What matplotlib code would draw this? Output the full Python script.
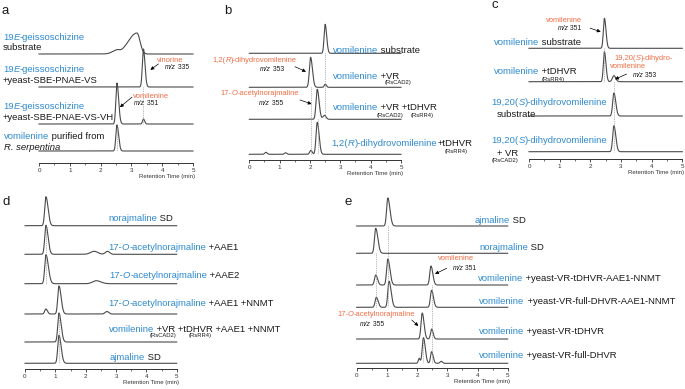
import numpy as np
import matplotlib
matplotlib.use('Agg')
import matplotlib.pyplot as plt
from matplotlib.offsetbox import TextArea, HPacker, AnnotationBbox

plt.rcParams['font.family'] = ['Liberation Sans', 'DejaVu Sans']

B = '#2f8ad0'     # compound names
O = '#f26b43'     # product annotations
K = '#1a1a1a'
TRACE = '#4a4a4a'
I = 'italic'

# ---- chromatogram peaks: (retention time min, height, left width, right width)
a_peaks = [
    [(3.18, 21, 0.28, 0.10), (2.52, 3, 0.15, 0.08)],
    [(3.39, 38, 0.035, 0.05)],
    [(2.53, 41, 0.035, 0.055), (3.39, 5, 0.03, 0.04)],
    [(2.53, 26, 0.035, 0.055)],
]
b_peaks = [
    [(2.50, 29, 0.035, 0.05)],
    [(2.02, 30, 0.04, 0.06), (2.50, 3, 0.03, 0.04)],
    [(2.24, 30, 0.04, 0.06), (2.48, 4, 0.05, 0.05)],
    [(2.24, 32, 0.04, 0.06), (2.03, 4, 0.04, 0.04), (0.55, 2, 0.04, 0.04), (1.20, 1.5, 0.04, 0.04)],
]
c_peaks = [
    [(2.46, 30, 0.035, 0.05)],
    [(2.46, 30, 0.035, 0.05), (2.77, 6, 0.05, 0.06)],
    [(2.77, 23, 0.04, 0.06)],
    [(2.77, 26, 0.04, 0.06)],
]
d_peaks = [
    [(0.69, 29, 0.04, 0.07)],
    [(0.69, 29, 0.04, 0.07), (2.28, 3, 0.12, 0.12), (2.72, 3, 0.07, 0.07)],
    [(0.69, 29, 0.04, 0.08), (2.35, 3, 0.12, 0.15)],
    [(1.12, 28, 0.04, 0.07), (0.69, 5, 0.04, 0.05), (2.70, 2.5, 0.06, 0.06)],
    [(1.12, 29, 0.04, 0.07)],
    [(1.12, 28, 0.04, 0.07)],
]
e_peaks = [
    [(1.03, 28, 0.04, 0.07)],
    [(0.63, 25, 0.04, 0.07)],
    [(0.63, 10, 0.04, 0.06), (1.03, 26, 0.04, 0.07), (2.46, 19, 0.04, 0.06)],
    [(0.65, 10, 0.04, 0.06), (1.07, 26, 0.04, 0.07), (2.48, 17, 0.04, 0.06)],
    [(2.17, 26, 0.04, 0.06), (2.48, 10, 0.035, 0.05)],
    [(2.21, 25.6, 0.04, 0.06), (2.48, 11.6, 0.035, 0.05), (2.07, 5, 0.03, 0.03), (2.80, 2, 0.04, 0.04)],
]

# dotted guides: (retention time, from trace, to trace)
a_dots = [(3.39, 1, 2), (2.53, 2, 3)]
b_dots = [(2.50, 0, 2), (2.04, 1, 3), (2.26, 2, 3)]
c_dots = [(2.46, 0, 1), (2.77, 1, 3)]
d_dots = [(0.69, 0, 2), (1.12, 3, 5)]
e_dots = [(1.03, 0, 3), (0.63, 1, 3), (2.48, 2, 5), (2.20, 4, 5)]

# ---- text (segment, colour[, style])
GEISS = [("19", B), ("E", B, I), ("-geissoschizine", B)]
ACNOR = [("17-", B), ("O", B, I), ("-acetylnorajmaline", B)]
SDIH = [("19,20(", B), ("S", B, I), (")-dihydrovomilenine", B)]

a_labels = [GEISS, [("substrate", K)],
            GEISS, [("+yeast-SBE-PNAE-VS", K)],
            GEISS, [("+yeast-SBE-PNAE-VS-VH", K)],
            [("vomilenine", B), (" purified from", K)], [("R. serpentina", K, I)]]
b_labels = [[("vomilenine", B), (" substrate", K)],
            [("vomilenine", B), (" +VR", K)],
            [("vomilenine", B), (" +VR +tDHVR", K)],
            [("1,2(", B), ("R", B, I), (")-dihydrovomilenine", B), ("+tDHVR", K)]]
c_labels = [[("vomilenine", B), (" substrate", K)],
            [("vomilenine", B), (" +tDHVR", K)],
            SDIH, [("substrate", K)],
            SDIH, [("+ VR", K)]]
d_labels = [[("norajmaline", B), (" SD", K)],
            ACNOR + [(" +AAE1", K)],
            ACNOR + [(" +AAE2", K)],
            ACNOR + [(" +AAE1 +NNMT", K)],
            [("vomilenine", B), (" +VR +tDHVR +AAE1 +NNMT", K)],
            [("ajmaline", B), (" SD", K)]]
e_labels = [[("ajmaline", B), (" SD", K)],
            [("norajmaline", B), (" SD", K)],
            [("vomilenine", B), (" +yeast-VR-tDHVR-AAE1-NNMT", K)],
            [("vomilenine", B), (" +yeast-VR-full-DHVR-AAE1-NNMT", K)],
            [("vomilenine", B), (" +yeast-VR-tDHVR", K)],
            [("vomilenine", B), (" +yeast-VR-full-DHVR", K)]]

enzymes = ["(RsCAD2)", "(RsCAD2)", "(RsRR4)", "(RsRR4)",
           "(RsRR4)", "(RsCAD2)", "(RsCAD2)", "(RsRR4)"]


def mz(v):
    return [("m/z", K, I), (" " + v, K)]


products = [[("vinorine", O)], mz("335"), [("vomilenine", O)], mz("351"),
            [("1,2(", O), ("R", O, I), (")-dihydrovomilenine", O)], mz("353"),
            [("17-", O), ("O", O, I), ("-acetylnorajmaline", O)], mz("355"),
            [("vomilenine", O)], mz("351"),
            [("19,20(", O), ("S", O, I), (")-dihydro-", O)], [("vomilenine", O)], mz("353"),
            [("vomilenine", O)], mz("351"),
            [("17-", O), ("O", O, I), ("-acetylnorajmaline", O)], mz("355")]

# ---- layout (pixels)
W, H = 685, 389
fig = plt.figure(figsize=(W / 100, H / 100), dpi=100)

# x of 0 min, x of 5 min, axis y, trace baselines
lay = {
    'a': (39, 193, 163, [54, 87, 124, 151]),
    'b': (249.3, 401, 160, [53.3, 87.3, 119.3, 154.3]),
    'c': (529, 682.3, 159.3, [48.3, 81.7, 116, 151.7]),
    'd': (25, 176.7, 369.3, [225.7, 254.3, 283.7, 314, 342, 363.3]),
    'e': (356.7, 507.7, 368.3, [226, 253.3, 285, 307.3, 339, 363.3]),
}

x = np.linspace(0, 5, 2000)


def trace(peaks):
    y = np.zeros_like(x)
    for rt, h, sl, sr in peaks:
        s = np.where(x < rt, sl, sr)
        y += h * np.exp(-0.5 * ((x - rt) / s) ** 2)
    return y


def panel(key, peaks, dots, arrows):
    x0, x5, yax, bases = lay[key]
    ytop = yax - 190 if yax > 200 else 0
    ax = fig.add_axes([x0 / W, 1 - yax / H, (x5 - x0) / W, (yax - ytop) / H])
    ax.set_xlim(0, 5)
    ax.set_ylim(yax, ytop)
    ax.patch.set_alpha(0)
    for s in ['top', 'right', 'left']:
        ax.spines[s].set_visible(False)
    ax.spines['bottom'].set_linewidth(0.7)
    ax.spines['bottom'].set_color('#333333')
    ax.set_yticks([])
    ax.set_xticks(range(6))
    ax.set_xticks(np.arange(0.5, 5, 1), minor=True)
    ax.tick_params(axis='x', which='major', length=2.2, width=0.6, labelsize=4.5, pad=1.5, colors='#333333')
    ax.tick_params(axis='x', which='minor', length=1.4, width=0.5, colors='#333333')
    for b, pk in zip(bases, peaks):
        ax.plot(x, b - trace(pk), color=TRACE, lw=0.8, clip_on=False, solid_joinstyle='round')
    for rt, i, j in dots:
        ax.plot([rt, rt], [bases[i], bases[j]], ls=(0, (1, 1.2)), color='#9a9a9a', lw=0.6, clip_on=False)
    ppm = (x5 - x0) / 5.0
    for i, k, dx, f, tx, ty in arrows:
        rt, h = peaks[i][k][:2]
        ax.annotate('', xy=(rt + dx / ppm, bases[i] - f * h), xytext=(tx, -ty),
                    textcoords='offset pixels', annotation_clip=False,
                    arrowprops=dict(arrowstyle='-|>', color='k', lw=0.5,
                                    mutation_scale=5, shrinkA=0, shrinkB=0))
    ax.text(4.15, yax + 13.5, 'Retention Time (min)', fontsize=4.3, ha='center',
            va='center', color='#333333', clip_on=False)
    return ax


# arrows: (trace, peak, head dx px, height fraction, tail dx px, tail dy px)
panel('a', a_peaks, a_dots, [(1, 0, 7, 0.45, 8, -6), (2, 0, 3, 0.41, 12, -10)])
panel('b', b_peaks, b_dots, [(1, 0, -4.6, 0.52, -11, -5), (2, 0, -5.6, 0.51, -11.7, -4)])
panel('c', c_peaks, c_dots, [(0, 0, -3.7, 0.55, -10.7, -3.7), (1, 1, 1, 0.4, 11.7, -5.3)])
panel('d', d_peaks, d_dots, [])
panel('e', e_peaks, e_dots, [(2, 2, 4, 0.58, 11.7, -5.7), (4, 0, -3.9, 0.5, -6.6, -6)])

bg = fig.add_axes([0, 0, 1, 1])
bg.set_xlim(0, W)
bg.set_ylim(H, 0)
bg.axis('off')


def label(xp, yp, parts, size=6.8, align=(0, 0.5)):
    boxes = [TextArea(p[0], textprops=dict(color=p[1], fontsize=size,
                                           fontstyle=p[2] if len(p) > 2 else 'normal'))
             for p in parts]
    pack = HPacker(children=boxes, align='baseline', pad=0, sep=0)
    ab = AnnotationBbox(pack, (xp, yp), xycoords='data', box_alignment=align,
                        frameon=False, pad=0, annotation_clip=False)
    bg.add_artist(ab)


pos = {
    'a': [(3, 37), (3, 47), (3, 69), (3, 80), (3, 106), (3, 117), (4, 136), (4, 147)],
    'b': [(333, 50), (333, 76), (333, 107), (331.7, 143.3)],
    'c': [(494, 42.7), (494, 71.7), (491.7, 102.3), (496.7, 114.3), (491.7, 140), (496.7, 153.3)],
    'd': [(108, 218), (108, 247), (109, 276), (108, 304), (109, 329), (110, 358)],
    'e': [(475, 220), (479, 247.3), (477.7, 278.3), (479.3, 301.7), (479, 331.7), (479, 355)],
}
for key, labs in zip('abcde', [a_labels, b_labels, c_labels, d_labels, e_labels]):
    for (xp, yp), parts in zip(pos[key], labs):
        label(xp, yp, parts)

enz_pos = [(398, 82), (390, 115), (422, 115), (456, 151.7),
           (553, 79.3), (505, 160.7), (163.5, 336), (200, 336)]
for (xp, yp), s in zip(enz_pos, enzymes):
    bg.text(xp, yp, s, fontsize=4.2, ha='center', va='center', color=K)

prod_pos = [(170, 60), (177, 67.5), (151, 96), (146, 103),
            (255, 60.7), (272, 69.3), (259.5, 93.3), (271, 103.3),
            (564, 20), (569.5, 28.3),
            (643.5, 58.3), (628.5, 66.7), (644.6, 75),
            (456.5, 258.3), (464.5, 269),
            (376.2, 315), (372, 324)]
for (xp, yp), parts in zip(prod_pos, products):
    label(xp, yp, parts, size=4.9 if parts[0][0] == "m/z" else 5.4, align=(0.5, 0.5))

for s, xp, yp in [('a', 2, 14), ('b', 224, 13.5), ('c', 492, 7.5), ('d', 3, 204.5), ('e', 345, 204.5)]:
    bg.text(xp, yp, s, fontsize=9.5, ha='left', va='baseline', color=K)

fig.savefig('out.png', dpi=100)
